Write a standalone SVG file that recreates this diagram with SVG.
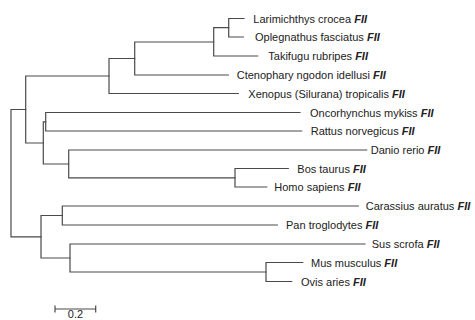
<svg xmlns="http://www.w3.org/2000/svg" width="475" height="320" viewBox="0 0 475 320">
<style>
.br{fill:none;stroke:#4a4a4a;stroke-width:1.2;stroke-linecap:square}
.lb{font-family:"Liberation Sans",Arial,sans-serif;font-size:11px;fill:#222}
.g{font-weight:bold;font-style:italic}
</style>
<rect width="475" height="320" fill="#fff"/>
<g id="connectors" class="br">
<path d="M11 109.5V236.8M11 109.5H25.7M11 236.8H41"/>
<path d="M25.7 76V143M25.7 76H109M25.7 143H43.3"/>
<path d="M109 58.5V93.5M109 58.5H134.7M109 93.5H238.3"/>
<path d="M134.7 42V75M134.7 42H213.7M134.7 75H228.3"/>
<path d="M213.7 27.7V56M213.7 27.7H228.7M213.7 56H257.7"/>
<path d="M228.7 18.5V37M228.7 18.5H244M228.7 37H243.3"/>
<path d="M43.3 121.8V164M43.3 121.8H45.7M43.3 164H68.7"/>
<path d="M45.7 112.5V131M45.7 112.5H300M45.7 131H301.7"/>
<path d="M68.7 150V177.8M68.7 150H366.7M68.7 177.8H235"/>
<path d="M235 168.5V187M235 168.5H288.3M235 187H266.7"/>
<path d="M41 215.5V258M41 215.5H62.3M41 258H70"/>
<path d="M62.3 206V225M62.3 206H358.3M62.3 225H277.3"/>
<path d="M70 244V272M70 244H365M70 272H266"/>
<path d="M266 262.5V281.5M266 262.5H302.7M266 281.5H291.7"/>
</g>
<g id="leaf-larimichthys"><text class="lb" x="253.3" y="22.5">Larimichthys crocea <tspan class="g">FII</tspan></text></g>
<g id="leaf-oplegnathus"><text class="lb" x="255" y="41">Oplegnathus fasciatus <tspan class="g">FII</tspan></text></g>
<g id="leaf-takifugu"><text class="lb" x="268.3" y="60">Takifugu rubripes <tspan class="g">FII</tspan></text></g>
<g id="leaf-ctenophary"><text class="lb" x="236.7" y="79">Ctenophary ngodon idellusi <tspan class="g">FII</tspan></text></g>
<g id="leaf-xenopus"><text class="lb" x="248.3" y="97.5">Xenopus (Silurana) tropicalis <tspan class="g">FII</tspan></text></g>
<g id="leaf-oncorhynchus"><text class="lb" x="310" y="116.5">Oncorhynchus mykiss <tspan class="g">FII</tspan></text></g>
<g id="leaf-rattus"><text class="lb" x="310.7" y="135">Rattus norvegicus <tspan class="g">FII</tspan></text></g>
<g id="leaf-danio"><text class="lb" x="370.7" y="154">Danio rerio <tspan class="g">FII</tspan></text></g>
<g id="leaf-bos"><text class="lb" x="297.3" y="172.5">Bos taurus <tspan class="g">FII</tspan></text></g>
<g id="leaf-homo"><text class="lb" x="274.3" y="191">Homo sapiens <tspan class="g">FII</tspan></text></g>
<g id="leaf-carassius"><text class="lb" x="365.7" y="210">Carassius auratus <tspan class="g">FII</tspan></text></g>
<g id="leaf-pan"><text class="lb" x="286" y="229">Pan troglodytes <tspan class="g">FII</tspan></text></g>
<g id="leaf-sus"><text class="lb" x="371.7" y="248">Sus scrofa <tspan class="g">FII</tspan></text></g>
<g id="leaf-mus"><text class="lb" x="311" y="266.5">Mus musculus <tspan class="g">FII</tspan></text></g>
<g id="leaf-ovis"><text class="lb" x="301" y="285.5">Ovis aries <tspan class="g">FII</tspan></text></g>
<g id="scale-bar">
<path class="br" d="M55 309H95.7M55 306V312M95.7 306V312"/>
<text class="lb" x="75.5" y="317.5" text-anchor="middle">0.2</text>
</g>
</svg>
